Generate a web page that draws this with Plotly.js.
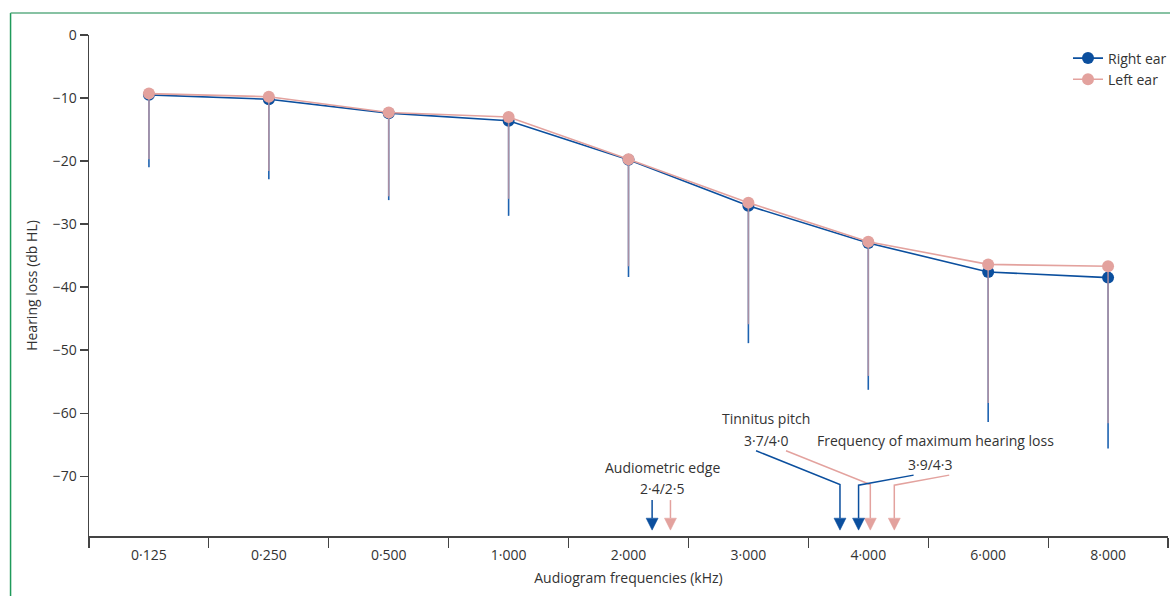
<!DOCTYPE html>
<html>
<head>
<meta charset="utf-8">
<script src="https://cdn.plot.ly/plotly-3.0.1.min.js"></script>
<style>
html,body{margin:0;padding:0;background:#fff;}
#chart{width:1170px;height:596px;}
</style>
</head>
<body>
<div id="chart"></div>
<script>
// ---- data ----
var frequencies = ['0·125','0·250','0·500','1·000','2·000','3·000','4·000','6·000','8·000'];
var rightEar = [-9.5, -10.2, -12.4, -13.6, -19.8, -27.1, -33.0, -37.6, -38.5];
var leftEar  = [-9.3, -9.8, -12.3, -13.0, -19.7, -26.6, -32.8, -36.4, -36.7];
var rightEarSD = [11.5, 12.7, 13.8, 15.1, 18.6, 21.8, 23.3, 23.8, 27.1];
var leftEarSD  = [10.4, 11.8, 13.3, 13.0, 17.0, 19.3, 21.3, 22.0, 24.9];
var yTickVals = [0, -10, -20, -30, -40, -50, -60, -70];
var yTickText = ['0', '−10', '−20', '−30', '−40', '−50', '−60', '−70'];

// arrow markers (x in category index units, y in dB)
var arrowRightX = [4.197, 5.764, 5.919];   // audiometric edge, tinnitus pitch, max loss
var arrowLeftX  = [4.35, 6.017, 6.217];
var arrowTipY = -78.57, arrowBaseY = -76.67;
// leader lines: start point of each (right, left)
var leaderRightStart = [[4.197, -73.8], [5.064, -65.98], [6.378, -69.84]];
var leaderLeftStart  = [[4.35, -73.8], [5.314, -65.98], [6.675, -69.84]];
var leaderBendY = [-73.8, -71.32, -71.43];

var labels = [
  {text: 'Audiometric edge', x: 4.28, y: -68.7},
  {text: '2·4/2·5', x: 4.28, y: -71.9},
  {text: 'Tinnitus pitch', x: 5.15, y: -60.9},
  {text: '3·7/4·0', x: 5.15, y: -64.4},
  {text: 'Frequency of maximum hearing loss', x: 6.56, y: -64.4},
  {text: '3·9/4·3', x: 6.52, y: -68.1}
];

var BLUE = '#0b4f9e', PINK = '#e3a29e';
var FONT = 'Open Sans, Noto Sans, sans-serif';

var traces = [
  {
    type: 'scatter', mode: 'lines+markers', name: 'Right ear',
    x: frequencies, y: rightEar,
    line: {color: BLUE, width: 1.6},
    marker: {color: BLUE, size: 12},
    error_y: {type: 'data', symmetric: false, array: rightEar.map(function(){return 0;}),
              arrayminus: rightEarSD, color: '#1d62b0', thickness: 1.6, width: 0}
  },
  {
    type: 'scatter', mode: 'lines+markers', name: 'Left ear',
    x: frequencies, y: leftEar,
    line: {color: PINK, width: 1.6},
    marker: {color: PINK, size: 12},
    error_y: {type: 'data', symmetric: false, array: leftEar.map(function(){return 0;}),
              arrayminus: leftEarSD, color: 'rgba(222,160,158,0.72)', thickness: 1.6, width: 0}
  }
];

var shapes = [];
function addArrow(x, startPt, bendY, color) {
  var path = 'M ' + startPt[0] + ' ' + startPt[1] + ' L ' + x + ' ' + bendY + ' L ' + x + ' ' + arrowBaseY;
  shapes.push({type: 'path', xref: 'x', yref: 'y', path: path, line: {color: color, width: 1.5}});
  var hw = 0.05;
  var tri = 'M ' + (x - hw) + ' ' + arrowBaseY + ' L ' + (x + hw) + ' ' + arrowBaseY + ' L ' + x + ' ' + arrowTipY + ' Z';
  shapes.push({type: 'path', xref: 'x', yref: 'y', path: tri, fillcolor: color, line: {color: color, width: 0.5}});
}
for (var i = 0; i < arrowRightX.length; i++) {
  addArrow(arrowRightX[i], leaderRightStart[i], leaderBendY[i], BLUE);
  addArrow(arrowLeftX[i], leaderLeftStart[i], leaderBendY[i], PINK);
}
// green frame
shapes.push({type: 'line', xref: 'paper', yref: 'paper', x0: -0.0727, x1: -0.0727, y0: 1.0439, y1: -0.13,
             line: {color: '#1f9a5a', width: 1.5}});
shapes.push({type: 'line', xref: 'paper', yref: 'paper', x0: -0.0727, x1: 1.01, y0: 1.0439, y1: 1.0439,
             line: {color: '#5fae85', width: 1.5}});

var annotations = labels.map(function(l) {
  return {text: l.text, x: l.x, y: l.y, xref: 'x', yref: 'y', showarrow: false,
          font: {family: FONT, size: 14, color: '#333'}, xanchor: 'center', yanchor: 'middle'};
});

var layout = {
  width: 1170, height: 596,
  margin: {l: 89, r: 2, t: 35, b: 60, autoexpand: false},
  paper_bgcolor: '#fff', plot_bgcolor: '#fff',
  font: {family: FONT, size: 14, color: '#333'},
  showlegend: true,
  legend: {x: 1.0037, xanchor: 'right', y: 0.985, yanchor: 'top', bgcolor: 'rgba(0,0,0,0)',
           font: {family: FONT, size: 14, color: '#333'}},
  xaxis: {
    type: 'category', range: [-0.5, 8.5], tickson: 'boundaries',
    ticks: 'outside', ticklen: 10, tickwidth: 1.2, tickcolor: '#444',
    showline: true, linecolor: '#444', linewidth: 1.5, showgrid: false, zeroline: false,
    tickfont: {family: FONT, size: 14, color: '#333'}, ticklabelstandoff: 6,
    title: {text: 'Audiogram frequencies (kHz)', font: {family: FONT, size: 14, color: '#333'}, standoff: 10},
    automargin: false, fixedrange: true
  },
  yaxis: {
    range: [-79.5, 0], tickvals: yTickVals, ticktext: yTickText,
    ticks: 'outside', ticklen: 8, tickwidth: 1.2, tickcolor: '#444',
    showline: true, linecolor: '#444', linewidth: 1.5, showgrid: false, zeroline: false,
    tickfont: {family: FONT, size: 14, color: '#333'},
    title: {text: 'Hearing loss (db HL)', font: {family: FONT, size: 14, color: '#333'}, standoff: 12},
    automargin: false, fixedrange: true
  },
  shapes: shapes,
  annotations: annotations
};

Plotly.newPlot('chart', traces, layout, {staticPlot: true, displayModeBar: false});
</script>
</body>
</html>
